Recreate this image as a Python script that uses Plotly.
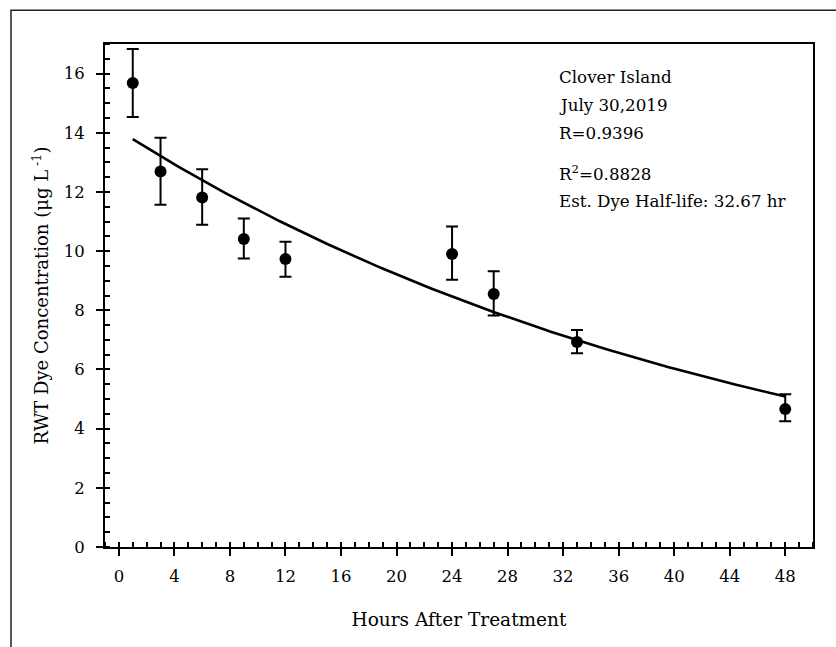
import numpy as np
import plotly.graph_objects as go

# Data
hours = [1, 3, 6, 9, 12, 24, 27, 33, 48]
conc = [15.68, 12.69, 11.81, 10.41, 9.73, 9.90, 8.55, 6.93, 4.66]
err_plus = [1.15, 1.14, 0.96, 0.69, 0.59, 0.93, 0.77, 0.40, 0.50]
err_minus = [1.15, 1.12, 0.92, 0.66, 0.60, 0.87, 0.73, 0.38, 0.41]

# Exponential decay fit parameters
fit_intercept = 14.08
half_life = 32.67
fit_start, fit_end = 1, 48

x_ticks = list(range(0, 49, 4))
y_ticks = list(range(0, 17, 2))

info_lines = ["Clover Island", "July 30,2019", "R=0.9396",
              "R<sup>2</sup>=0.8828", "Est. Dye Half-life: 32.67 hr"]

FONT = "DejaVu Serif, Liberation Serif, serif"

k = np.log(2) / half_life
fit_x = np.linspace(fit_start, fit_end, 200)
fit_y = fit_intercept * np.exp(-k * fit_x)

fig = go.Figure()
fig.add_trace(go.Scatter(x=fit_x, y=fit_y, mode="lines",
                         line=dict(color="black", width=2.6),
                         showlegend=False, hoverinfo="skip"))
fig.add_trace(go.Scatter(
    x=hours, y=conc, mode="markers",
    marker=dict(color="black", size=12),
    error_y=dict(type="data", array=err_plus, arrayminus=err_minus,
                 symmetric=False, color="black", thickness=2, width=6),
    showlegend=False))

axis_common = dict(showline=True, linecolor="black", linewidth=2,
                   mirror=True, showgrid=False, zeroline=False,
                   ticks="outside", ticklen=7, tickwidth=2, tickcolor="black",
                   tickfont=dict(family=FONT, size=16.5, color="black"))

fig.update_xaxes(range=[-1, 50], tickmode="array", tickvals=x_ticks,
                 ticklabelstandoff=6,
                 minor=dict(dtick=1, tick0=0, ticks="inside", ticklen=5,
                            tickwidth=2, tickcolor="black"),
                 title=dict(text="Hours After Treatment", standoff=28,
                            font=dict(family=FONT, size=18.5, color="black")),
                 **axis_common)
fig.update_yaxes(range=[0, 17], tickmode="array", tickvals=y_ticks,
                 ticklabelstandoff=8,
                 minor=dict(dtick=0.5, tick0=0, ticks="inside", ticklen=5,
                            tickwidth=2, tickcolor="black"),
                 title=dict(text="RWT Dye Concentration (μg L<sup> -1</sup>)",
                            standoff=10,
                            font=dict(family=FONT, size=18, color="black")),
                 **axis_common)

ys = [77, 105, 133, 173, 201]
for txt, py in zip(info_lines, ys):
    fig.add_annotation(text=txt, xref="paper", yref="paper",
                       x=(557 - 105) / 708, y=1 - (py - 44.3) / 502.4,
                       xanchor="left", yanchor="middle", showarrow=False,
                       font=dict(family=FONT, size=16.7, color="black"))

# outer frame
fig.add_shape(type="rect", xref="paper", yref="paper",
              x0=(11 - 105) / 708, x1=1.1, y0=-0.3, y1=1 + (44.3 - 10.5) / 502.4,
              line=dict(color="#222", width=1.5), layer="below")

fig.update_layout(width=836, height=647,
                  margin=dict(l=105, r=23, t=44, b=100),
                  paper_bgcolor="white", plot_bgcolor="white",
                  font=dict(family=FONT, color="black"))

fig.write_html("out.html", config={"displayModeBar": False},
               post_script="document.body.style.margin='0';document.body.style.overflow='hidden';")
